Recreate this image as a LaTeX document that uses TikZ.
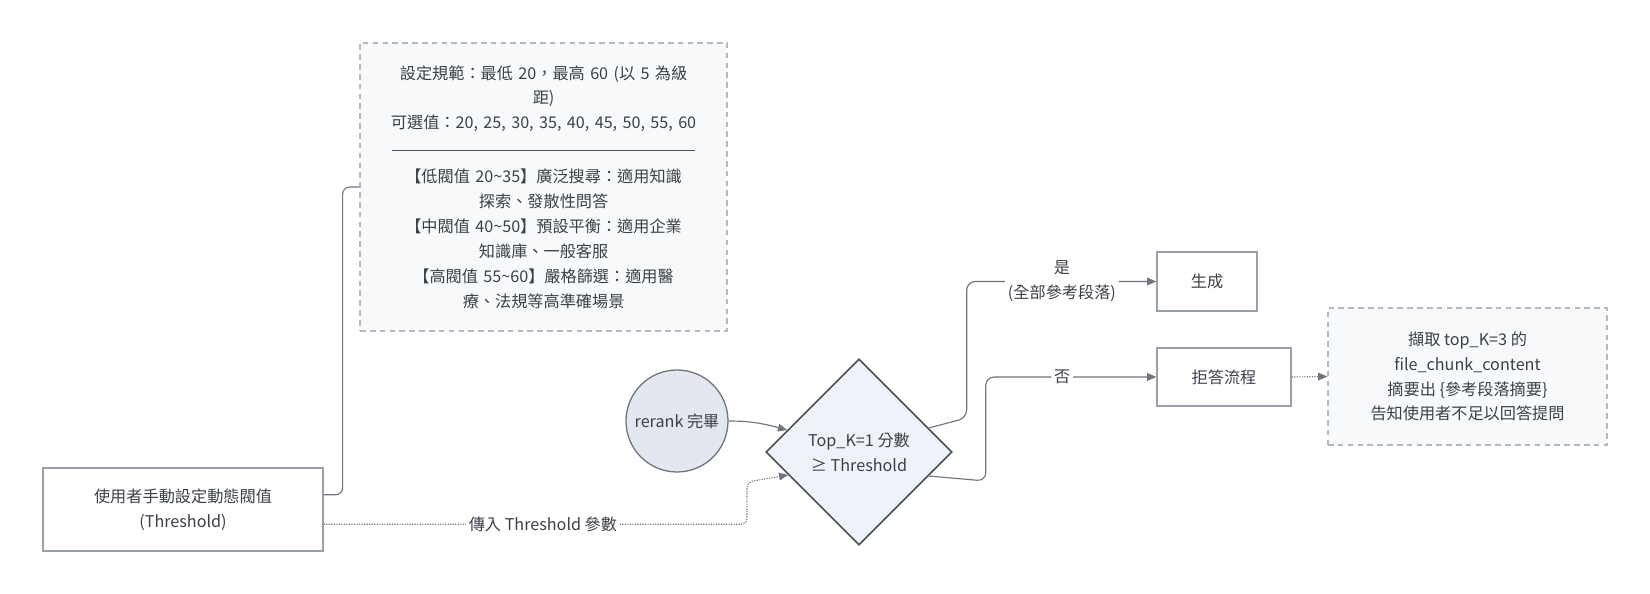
\documentclass[tikz,border=0pt]{standalone}
\usepackage{fontspec}
\setmainfont{Noto Sans CJK TC}
\usetikzlibrary{arrows.meta,positioning,calc,shapes.geometric}
\definecolor{ink}{HTML}{3B4049}
\definecolor{edge}{HTML}{9AA0A8}
\definecolor{wire}{HTML}{70757D}
\definecolor{notebg}{HTML}{F8F9FB}
\definecolor{notedash}{HTML}{B4BAC3}
\definecolor{rrfill}{HTML}{E3E8F0}
\definecolor{decfill}{HTML}{EEF2F9}
\definecolor{decedge}{HTML}{4A5059}
\tikzset{
  notebox/.style={draw=notedash, dash pattern=on 4pt off 3pt, fill=notebg, line width=0.9pt,
                  align=center, text=ink, font=\fontsize{11.5}{17.7}\selectfont},
  plainbox/.style={draw=edge, fill=white, line width=0.9pt,
                   align=center, text=ink, font=\fontsize{11.5}{17.7}\selectfont},
  rrnode/.style={circle, draw=decedge!80, fill=rrfill, line width=0.9pt, minimum size=2.55cm,
                 inner sep=0pt, text=ink, font=\fontsize{11.5}{17.7}\selectfont},
  decbox/.style={diamond, aspect=1, draw=decedge, fill=decfill, line width=1.1pt,
                 minimum width=4.65cm, minimum height=4.65cm, inner sep=0pt,
                 align=center, text=ink, font=\fontsize{11.5}{17.7}\selectfont},
  lbl/.style={fill=white, inner sep=2pt, align=center, text=ink, font=\fontsize{11.5}{17.7}\selectfont},
  arr/.style={-{Triangle[length=2.3mm,width=1.9mm]}, line width=0.8pt, color=wire},
  darr/.style={arr, densely dotted},
  lnk/.style={line width=0.8pt, color=wire}}

\begin{document}
\begin{tikzpicture}
    \fill[white] (0,0) rectangle (41.25,14.85);
    \node[notebox, minimum width=9.175cm, minimum height=7.2cm, text width=7.9cm] (note) at (13.59,10.175)
      {設定規範：最低 20，最高 60 (以 5 為級\\距)\\可選值：20, 25, 30, 35, 40, 45, 50, 55, 60\\[-2pt]
       {\color{decedge}\rule{7.575cm}{0.9pt}}\\[5pt]
       【低閥值 20\textasciitilde35】廣泛搜尋：適用知識\\探索、發散性問答\\
       【中閥值 40\textasciitilde50】預設平衡：適用企業\\知識庫、一般客服\\
       【高閥值 55\textasciitilde60】嚴格篩選：適用醫\\療、法規等高準確場景};
    \node[plainbox, minimum width=7cm, minimum height=2.075cm] (usr) at (4.575,2.1125)
      {使用者手動設定動態閥值\\(Threshold)};
    \node[rrnode] (rr) at (16.925,4.325) {rerank 完畢};
    \node[decbox] (dia) at (21.475,3.55) {Top\_K=1 分數\\≥ Threshold};
    \node[plainbox, minimum width=2.5cm, minimum height=1.475cm] (gen) at (30.175,7.8125) {生成};
    \node[plainbox, minimum width=3.35cm, minimum height=1.45cm] (ref) at (30.6,5.425) {拒答流程};
    \node[notebox, minimum width=6.975cm, minimum height=3.425cm] (rnote) at (36.6875,5.4375)
      {擷取 top\_K=3 的\\file\_chunk\_content\\摘要出 \{參考段落摘要\}\\告知使用者不足以回答提問};
    \coordinate (pbend) at (18.675,2.8);

    \draw[lnk, rounded corners=5pt] (usr.6) -- ++(0.475,0) |- (note.west);
    \draw[darr, rounded corners=4pt] (usr.-6) -| node[lbl, pos=0.259] {傳入 Threshold 參數} (pbend) -- (dia.198);
    \draw[arr] (rr.east) to[out=0, in=165] (dia.163);
    \draw[arr, rounded corners=6pt] (dia.19) -- ++(0.95,0.25) |- node[lbl, pos=0.751] {是\\(全部參考段落)} (gen.west);
    \draw[arr, rounded corners=6pt] (dia.-19) -- ++(1.425,-0.125) |- node[lbl, pos=0.724] {否} (ref.west);
    \draw[darr] (ref.east) -- (rnote.west);
  \end{tikzpicture}
\end{document}
